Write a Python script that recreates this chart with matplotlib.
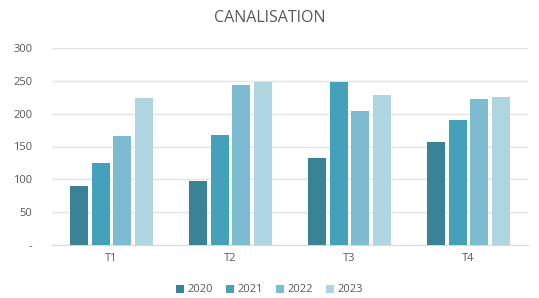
import numpy as np
import matplotlib.pyplot as plt

plt.rcParams['font.family'] = ['Open Sans', 'DejaVu Sans']

categories = ['T1', 'T2', 'T3', 'T4']
years = ['2020', '2021', '2022', '2023']
values = {
    '2020': [90, 98, 133, 157],
    '2021': [125, 168, 248, 190],
    '2022': [166, 243, 204, 222],
    '2023': [224, 248, 229, 226],
}
colors = ['#3a8397', '#45a1b9', '#7dbbd1', '#afd5e1']
yticks = [0, 50, 100, 150, 200, 250, 300]
ytick_labels = ['-', '50', '100', '150', '200', '250', '300']

fig = plt.figure(figsize=(5.39, 2.98), dpi=100)
ax = fig.add_axes([52 / 539, 1 - 245 / 298, 476 / 539, 197 / 298])

x = np.arange(len(categories))
step = 0.182
width = 0.154
for i, yr in enumerate(years):
    ax.bar(x + (i - 1.5) * step, values[yr], width, color=colors[i], label=yr, zorder=3)

ax.set_xlim(-0.5, 3.5)
ax.set_ylim(0, 300)
ax.set_yticks(yticks)
ax.set_yticklabels(ytick_labels)
ax.set_xticks(x)
ax.set_xticklabels(categories)
ax.grid(axis='y', color='#e3e3e3', linewidth=1, zorder=0)
for s in ['top', 'right', 'left']:
    ax.spines[s].set_visible(False)
ax.spines['bottom'].set_color('#d9d9d9')
ax.tick_params(axis='both', length=0, colors='#595959', labelsize=8)
ax.tick_params(axis='y', pad=14)
ax.tick_params(axis='x', pad=6)
for lab in ax.get_yticklabels():
    lab.set_horizontalalignment('right')

fig.suptitle('CANALISATION', y=0.965, fontsize=11.5, color='#595959')
fig.legend(loc='center', bbox_to_anchor=(0.5, 1 - 290 / 298), ncol=4, frameon=False,
           fontsize=8, handlelength=0.7, handleheight=0.7, handletextpad=0.3,
           columnspacing=1.2, labelcolor='#595959')

fig.savefig('out.png', dpi=100)
